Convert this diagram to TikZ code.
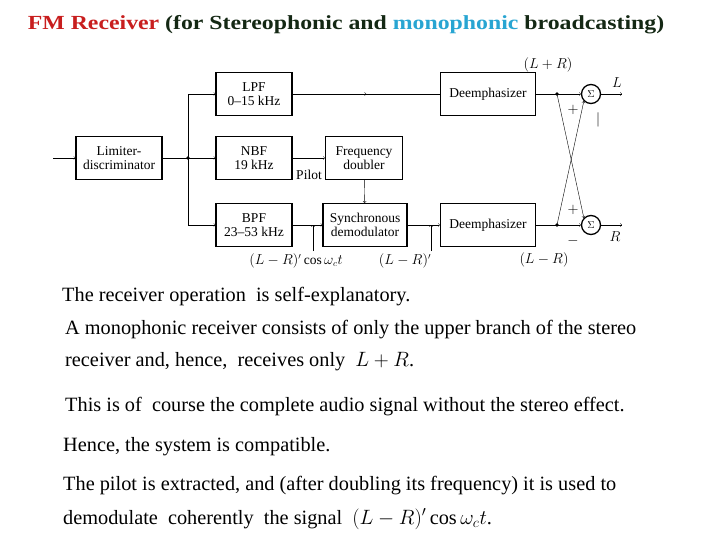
\documentclass[tikz,border=0pt]{standalone}
\usepackage{fontspec}
\setmainfont{Liberation Serif}
\usetikzlibrary{arrows,positioning,decorations.markings}
\definecolor{titlered}{RGB}{200,30,30}
\definecolor{monoblue}{RGB}{40,165,210}
\definecolor{titledark}{RGB}{20,40,20}

\begin{document}
\begin{tikzpicture}
    [
        x=1pt, y=-1pt,
        block/.style = {draw, shape=rectangle, line width=1.3pt, minimum width=76pt, minimum height=43pt, align=center, font=\fontsize{13.5}{13.5}\selectfont, inner sep=1pt},
        sum/.style = {draw, shape=circle, line width=1.3pt, minimum size=19pt, inner sep=0pt},
        lbl/.style = {font=\fontsize{13.5}{14}\selectfont, inner sep=1pt},
        txt/.style = {anchor=west, font=\fontsize{20.3}{20}\selectfont, inner sep=0pt},
        midarrow/.style = {decoration={markings, mark=at position 0.5 with {\arrow{>}}}, postaction={decorate}},
    ]
    \useasboundingbox (0,0) rectangle (720,540);

    \node[font=\bfseries\fontsize{20}{20}\selectfont, text=titledark] (title) at (346,25) {\scalebox{1.19}[1]{\textcolor{titlered}{FM Receiver} (for Stereophonic and \textcolor{monoblue}{monophonic} broadcasting)}};

    \node[block, minimum width=86pt] (lim) at (119,158) {Limiter-\\discriminator};
    \node[block] (lpf) at (254,94) {LPF\\0--15 kHz};
    \node[block] (nbf) at (254,158) {NBF\\19 kHz};
    \node[block, minimum width=77pt] (dbl) at (364,158) {Frequency\\doubler};
    \node[block] (bpf) at (254,225) {BPF\\23--53 kHz};
    \node[block, minimum width=84pt] (sync) at (365,225) {Synchronous\\demodulator};
    \node[block, minimum width=95pt] (dtop) at (488,94) {Deemphasizer};
    \node[block, minimum width=95pt] (dbot) at (488,225) {Deemphasizer};
    \node[sum] (stop) at (591,94) {$\Sigma$};
    \node[sum] (sbot) at (591,225) {$\Sigma$};

    \coordinate (in) at (53,158);
    \coordinate (jn) at (188,158);
    \coordinate (ptop) at (557,94);
    \coordinate (pbot) at (557,225);
    \coordinate (outL) at (622,94);
    \coordinate (outR) at (622,225);
    \coordinate (t1) at (313,251);
    \coordinate (t2) at (431,251);

    % signal paths
    \draw[->] (in) -- (lim);
    \draw[->] (lim) -- (nbf);
    \fill (jn) circle (1.8pt);
    \draw[->] (jn) |- (lpf);
    \draw[->] (jn) |- (bpf);
    \draw[midarrow] (lpf) -- (dtop);
    \draw[->] (nbf) -- (dbl);
    \draw[->] (dbl) -- (sync);
    \draw[->] (bpf) -- (sync);
    \draw[->] (sync) -- (dbot);
    \draw[->] (dtop) -- (stop);
    \draw[->] (dbot) -- (sbot);
    \fill (ptop) circle (1.8pt);
    \fill (pbot) circle (1.8pt);
    \draw[->] (ptop) -- (sbot.north west);
    \draw[->] (pbot) -- (stop.south west);
    \draw[->] (stop) -- (outL);
    \draw[->] (sbot) -- (outR);
    \draw[->, thin] (t1) -- (t1 |- bpf);
    \draw[->, thin] (t2) -- (t2 |- dbot);

    % labels
    \node[lbl] (pilot) at (309,175) {Pilot};
    \node[lbl] (lpr) at (548,65) {$(L+R)$};
    \node[lbl] (lbl-L) at (617,83) {$L$};
    \node[lbl] (p1) at (573,110) {$+$};
    \node[lbl] (p2) at (598,120) {$|$};
    \node[lbl] (p3) at (573,210) {$+$};
    \node[lbl] (m1) at (573,241) {$-$};
    \node[lbl] (lbl-R) at (615,237) {$R$};
    \node[lbl] (lmr) at (544,260) {$(L-R)$};
    \node[lbl] (lmrp) at (405,261) {$(L-R)'$};
    \node[lbl] (lmrc) at (296,261) {$(L-R)'\cos\omega_c t$};

    % text
    \node[txt] (l1) at (62,297) {The receiver operation \ is self-explanatory.};
    \node[txt] (l2) at (65,330) {A monophonic receiver consists of only the upper branch of the stereo};
    \node[txt] (l3) at (65,362) {receiver and, hence, \ receives only \ $L+R$.};
    \node[txt] (l4) at (65,407) {This is of \ course the complete audio signal without the stereo effect.};
    \node[txt] (l5) at (63,447) {Hence, the system is compatible.};
    \node[txt] (l6) at (63,486) {The pilot is extracted, and (after doubling its frequency) it is used to};
    \node[txt] (l7) at (63,519) {demodulate \ coherently \ the signal \ $(L-R)'\cos\omega_c t$.};
\end{tikzpicture}
\end{document}
